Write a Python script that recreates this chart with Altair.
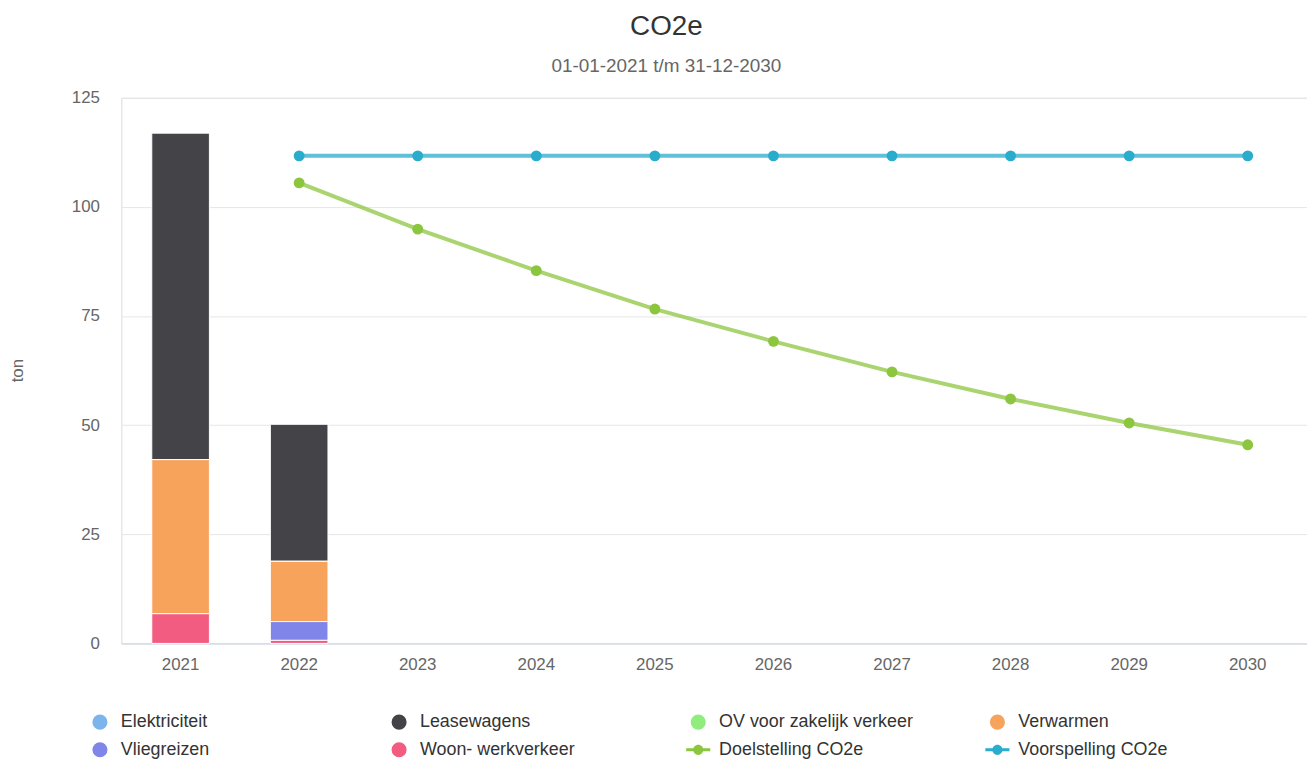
import altair as alt
import pandas as pd

# ---------------- data ----------------
years = ["2021", "2022", "2023", "2024", "2025", "2026", "2027", "2028", "2029", "2030"]
series_names = [
    "Elektriciteit", "Leasewagens", "OV voor zakelijk verkeer", "Verwarmen",
    "Vliegreizen", "Woon- werkverkeer", "Doelstelling CO2e", "Voorspelling CO2e",
]
series_colors = ["#7cb5ec", "#434348", "#90ed7d", "#f7a35c", "#8085e9", "#f15c80", "#8cc63f", "#2aaccc"]

bar_years = ["2021", "2022"]
elektriciteit = [0.0, 0.0]
leasewagens = [74.8, 31.4]
ov_zakelijk = [0.0, 0.0]
verwarmen = [35.3, 13.8]
vliegreizen = [0.0, 4.3]
woon_werk = [6.8, 0.7]

line_years = ["2022", "2023", "2024", "2025", "2026", "2027", "2028", "2029", "2030"]
doelstelling = [105.5, 94.9, 85.4, 76.6, 69.2, 62.2, 56.0, 50.5, 45.5]
voorspelling = [111.7, 111.7, 111.7, 111.7, 111.7, 111.7, 111.7, 111.7, 111.7]

# ---------------- tables ----------------
bar_series = [elektriciteit, leasewagens, ov_zakelijk, verwarmen, vliegreizen, woon_werk]
bar_rows = []
for idx, vals in enumerate(bar_series):
    for y, v in zip(bar_years, vals):
        bar_rows.append({"year": y, "serie": series_names[idx], "idx": idx, "value": v})
bars_df = pd.DataFrame(bar_rows)

line_rows = []
for name, vals in [("Doelstelling CO2e", doelstelling), ("Voorspelling CO2e", voorspelling)]:
    for y, v in zip(line_years, vals):
        line_rows.append({"year": y, "serie": name, "value": v})
lines_df = pd.DataFrame(line_rows)

legend_df = pd.DataFrame({"serie": series_names})

line_symbol = ("M-1.6,-0.2H1.6V0.2H-1.6Z "
               "M-0.68,0A0.68,0.68 0 1,1 0.68,0A0.68,0.68 0 1,1 -0.68,0Z")
shape_range = ["circle"] * 6 + [line_symbol, line_symbol]

FONT = "Liberation Sans"

x_enc = alt.X(
    "year:N",
    scale=alt.Scale(domain=years, paddingInner=0.514, paddingOuter=0.257),
    axis=alt.Axis(title=None, labelAngle=0, ticks=False, grid=False,
                  domainColor="#ccd6eb", labelColor="#666666", labelFontSize=17,
                  labelPadding=13, labelFont=FONT),
)
y_scale = alt.Scale(domain=[0, 125], nice=False)
y_axis = alt.Axis(title="ton", values=[0, 25, 50, 75, 100, 125], domain=False, ticks=False,
                  gridColor="#e6e6e6", labelColor="#666666", labelFontSize=17,
                  labelPadding=22, labelFont=FONT, titleFont=FONT, titleFontSize=17,
                  titleColor="#666666", titleFontWeight="normal", titleX=-95, titleY=274)
color_scale = alt.Scale(domain=series_names, range=series_colors)

legend_kw = dict(orient="none", legendX=-30.5, legendY=619, columns=4, direction="horizontal",
                 gridAlign="all", columnPadding=68, rowPadding=6,
                 symbolSize=230, labelFontSize=18, labelFont=FONT,
                 labelColor="#333333", labelOffset=12, labelLimit=400,
                 title=None, symbolOpacity=1)

bars = alt.Chart(bars_df).mark_bar(stroke="#ffffff", strokeWidth=1).encode(
    x=x_enc,
    y=alt.Y("value:Q", stack="zero", scale=y_scale, axis=y_axis),
    color=alt.Color("serie:N", scale=color_scale, legend=None),
    order=alt.Order("idx:Q", sort="descending"),
)

lines = alt.Chart(lines_df).mark_line(strokeWidth=4, opacity=0.75).encode(
    x=alt.X("year:N"),
    y=alt.Y("value:Q"),
    color=alt.Color("serie:N", scale=color_scale, legend=None),
)

points = alt.Chart(lines_df).mark_circle(size=120, opacity=1).encode(
    x=alt.X("year:N"),
    y=alt.Y("value:Q"),
    color=alt.Color("serie:N", scale=color_scale, legend=None),
)

legend_layer = alt.Chart(legend_df).mark_point(filled=True, opacity=0).encode(
    color=alt.Color("serie:N", scale=color_scale, legend=alt.Legend(**legend_kw)),
    shape=alt.Shape("serie:N", scale=alt.Scale(domain=series_names, range=shape_range),
                    legend=alt.Legend(**legend_kw)),
)

chart = alt.layer(bars, lines, points, legend_layer).resolve_legend(
    color="independent", shape="independent"
).properties(
    width=1193,
    height=549,
    autosize=alt.AutoSizeParams(type="none"),
    padding={"left": 114, "top": 88, "right": 0, "bottom": 118},
    title=alt.TitleParams(
        text="CO2e", subtitle="01-01-2021 t/m 31-12-2030",
        font=FONT, fontSize=28, fontWeight="normal", color="#333333",
        subtitleFont=FONT, subtitleFontSize=19, subtitleColor="#666666",
        subtitlePadding=16, offset=13, dx=-48, anchor="middle",
    ),
).configure_view(stroke=None).configure(background="#ffffff")

chart.save("out.html", embed_options={"renderer": "svg", "actions": False})
